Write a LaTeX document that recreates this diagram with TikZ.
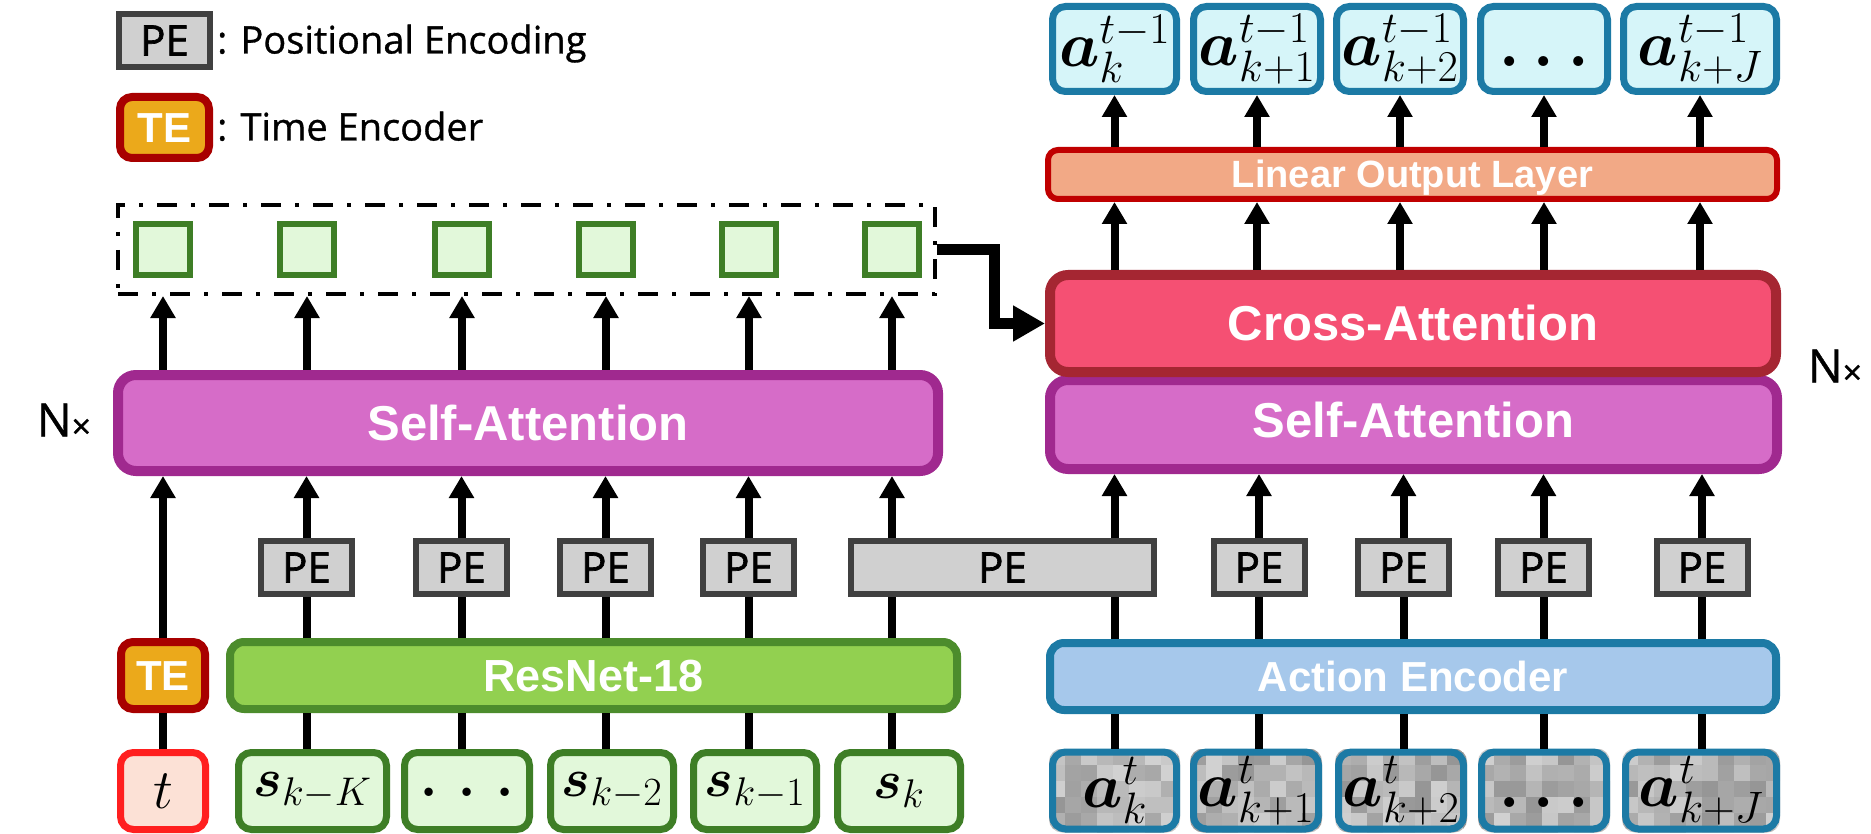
\RequirePackage{fix-cm}
\documentclass[tikz,border=0pt]{standalone}
\usepackage{fontspec}
\usepackage{bm}
\usetikzlibrary{arrows.meta,calc}
\newfontfamily\lsans{Liberation Sans}
\newfontfamily\osans{Open Sans}[FakeBold=0.8]
\newfontfamily\osansb{Open Sans}[FakeBold=1.6]
\DeclareMathSizes{64}{64}{44}{32}
\DeclareMathSizes{54}{54}{40}{28}
\DeclareMathSizes{56}{56}{40}{28}
\newcommand\mA{\fontsize{64}{64}\selectfont}
\newcommand\mS{\fontsize{54}{54}\selectfont}
\newcommand\mT{\fontsize{56}{56}\selectfont}
\newcommand\bdots[1]{\bm{.}\mkern#1mu\bm{.}\mkern#1mu\bm{.}}
\newcommand\ntimes{N\raisebox{-2pt}{\fontsize{34}{34}\selectfont ×}}
\definecolor{peF}{HTML}{D0D0D0}\definecolor{peD}{HTML}{404040}
\definecolor{teF}{HTML}{EBA91B}\definecolor{teD}{HTML}{A80000}
\definecolor{tF}{HTML}{FCE1D6}\definecolor{tD}{HTML}{FF1F1F}
\definecolor{gF}{HTML}{E2F8DA}\definecolor{gD}{HTML}{3E7E26}
\definecolor{resF}{HTML}{92D050}\definecolor{resD}{HTML}{4C8C2C}
\definecolor{saF}{HTML}{D66CC8}\definecolor{saD}{HTML}{A0298F}
\definecolor{caF}{HTML}{F55073}\definecolor{caD}{HTML}{A52632}
\definecolor{linF}{HTML}{F2A986}\definecolor{linD}{HTML}{C00000}
\definecolor{outF}{HTML}{D6F5F9}\definecolor{blD}{HTML}{1C7AA5}
\definecolor{aeF}{HTML}{A6C8EB}
\pgfdeclarelayer{bg}
\pgfsetlayers{bg,main}
\tikzset{
  pebox/.style={draw=peD, fill=peF, line width=6pt, inner sep=0pt, minimum width=91pt, minimum height=53pt,
    font=\osansb\fontsize{42}{42}\selectfont, text height=30pt, text depth=0pt},
  tebox/.style={draw=teD, fill=teF, line width=8pt, rounded corners=12pt, inner sep=0pt,
    font=\lsans\bfseries\fontsize{42}{42}\selectfont, text=white, text height=30pt, text depth=0pt},
  bigbox/.style={draw, line width=10pt, rounded corners=18pt, inner sep=0pt,
    font=\lsans\bfseries\fontsize{49}{49}\selectfont, text=white, text height=35pt, text depth=0pt},
  encbox/.style={draw, line width=8pt, rounded corners=14pt, inner sep=0pt, minimum height=67pt,
    text=white, text depth=0pt},
  linbox/.style={draw=linD, fill=linF, line width=6pt, rounded corners=10pt, inner sep=0pt,
    minimum width=729pt, minimum height=49pt, text=white,
    font=\lsans\bfseries\fontsize{38}{38}\selectfont, text height=27pt, text depth=0pt},
  inbox/.style={line width=7pt, rounded corners=13pt, inner sep=0pt, minimum height=77pt},
  outbox/.style={draw=blD, fill=outF, line width=7pt, rounded corners=13pt, inner sep=0pt, minimum height=85pt, font=\mA},
  sqbox/.style={draw=gD, fill=gF, line width=6pt, minimum width=54pt, minimum height=51pt, inner sep=0pt},
  legtxt/.style={font=\osans\fontsize{38}{38}\selectfont, inner sep=0pt, text height=27pt, text depth=0pt, anchor=west},
  nxtxt/.style={font=\osans\fontsize{46}{46}\selectfont, inner sep=0pt, text height=33pt, text depth=0pt},
  arr/.style={line width=8pt, -{Triangle[width=24pt,length=22pt]}},
  conn/.style={line width=8pt},
  elb/.style={line width=11pt, -{Triangle[width=34pt,length=32pt]}},
}
\begin{document}
\begin{tikzpicture}[x=1pt,y=-1pt]
\begin{pgfonlayer}{bg}
\fill[white] (0,0) rectangle (1871,834);
\end{pgfonlayer}
\useasboundingbox (0,0) rectangle (1871,834);
\pgfmathsetseed{42}
% legend
\node[pebox] (lpe) at (164.5,40.5) {PE};
\node[tebox, minimum width=89pt, minimum height=61pt] (lte) at (164.5,127.5) {TE};
\node[legtxt] (lpet) at (217,40) {: Positional Encoding};
\node[legtxt] (ltet) at (217,127) {: Time Encoder};
% dashed group with feature squares
\node[draw, line width=4pt, dash pattern=on 20pt off 14pt on 4pt off 14pt, minimum width=817pt, minimum height=89pt, inner sep=0pt] (grp) at (526.5,249.5) {};
\foreach \x [count=\i] in {163,307,462,606,749,892} \node[sqbox] (sq\i) at (\x,249.5) {};
% left encoder
\node[bigbox, draw=saD, fill=saF, minimum width=820pt, minimum height=96pt] (sal) at (528,423) {Self-Attention};
\node[nxtxt] (nxl) at (64,420) {\ntimes};
\foreach \x [count=\i] in {306.5,461.5,605.5,748.5} \node[pebox] (pe\i) at (\x,567.5) {PE};
\node[pebox, minimum width=303pt] (pe5) at (1002.5,567.5) {PE};
\foreach \x [count=\i from 6] in {1259,1403.5,1543.5,1702} \node[pebox] (pe\i) at (\x,567.5) {PE};
\node[tebox, minimum width=84pt, minimum height=67pt] (te) at (163,675.5) {TE};
\node[encbox, draw=resD, fill=resF, minimum width=727pt, font=\lsans\bfseries\fontsize{45}{45}\selectfont, text height=32pt] (res) at (593.5,675.5) {ResNet-18};
\node[encbox, draw=blD, fill=aeF, minimum width=726pt, font=\lsans\bfseries\fontsize{42}{42}\selectfont, text height=30pt] (ae) at (1413,676.5) {Action Encoder};
% inputs
\node[inbox, draw=tD, fill=tF, minimum width=85pt, font=\mT] (t) at (163,791) {$t$};
\node[inbox, draw=gD, fill=gF, minimum width=148pt, font=\mS] (s1) at (312.5,791) {$\bm{s}_{k-K}$};
\node[inbox, draw=gD, fill=gF, minimum width=125pt, font=\mS] (s2) at (467,791) {$\vphantom{\bm{s}_{k-1}}\bdots{7}$};
\node[inbox, draw=gD, fill=gF, minimum width=123pt, font=\mS] (s3) at (612,791) {$\bm{s}_{k-2}$};
\node[inbox, draw=gD, fill=gF, minimum width=123pt, font=\mS] (s4) at (755,791) {$\bm{s}_{k-1}$};
\node[inbox, draw=gD, fill=gF, minimum width=123pt, font=\mS] (s5) at (899,791) {$\bm{s}_{k}$};
\node[inbox, draw=blD, minimum width=124pt, font=\mA] (a1) at (1114.5,790.5) {$\bm{a}_{k}^{t}$};
\node[inbox, draw=blD, minimum width=125pt, font=\mA] (a2) at (1256,790.5) {$\bm{a}_{k+1}^{t}$};
\node[inbox, draw=blD, minimum width=125pt, font=\mA] (a3) at (1401,790.5) {$\bm{a}_{k+2}^{t}$};
\node[inbox, draw=blD, minimum width=125pt, font=\mA] (a4) at (1544,790.5) {$\vphantom{\bm{a}_{k}^{t}}\bdots{4}$};
\node[inbox, draw=blD, minimum width=151pt, font=\mA] (a5) at (1701,790.5) {$\bm{a}_{k+J}^{t}$};
\begin{pgfonlayer}{bg}
\foreach \i in {1,...,5}{
  \begin{scope}
    \clip[rounded corners=13pt] (a\i.south west) rectangle (a\i.north east);
    \foreach \u in {0,...,10}{\foreach \v in {0,...,5}{
      \pgfmathsetmacro\g{int(18+24*rnd)}
      \fill[black!\g] ($(a\i.north west)+(\u*16,\v*16)$) rectangle ++(16,16);
    }}
  \end{scope}
}
\end{pgfonlayer}
% decoder
\node[bigbox, draw=saD, fill=saF, minimum width=727pt, minimum height=89pt, text depth=10pt] (sar) at (1413.5,424.5) {Self-Attention};
\node[bigbox, draw=caD, fill=caF, minimum width=726pt, minimum height=97pt] (ca) at (1413,323.5) {Cross-Attention};
\node[nxtxt] (nxr) at (1835,366) {\ntimes};
\node[linbox] (lin) at (1412.5,174.5) {Linear Output Layer};
\node[outbox, minimum width=124pt] (o1) at (1114.5,49) {$\bm{a}_{k}^{t-1}$};
\node[outbox, minimum width=127pt] (o2) at (1257,49) {$\bm{a}_{k+1}^{t-1}$};
\node[outbox, minimum width=127pt] (o3) at (1400,49) {$\bm{a}_{k+2}^{t-1}$};
\node[outbox, minimum width=127pt] (o4) at (1544,49) {$\vphantom{\bm{a}_{k}^{t-1}}\bdots{4}$};
\node[outbox, minimum width=153pt] (o5) at (1700,49) {$\bm{a}_{k+J}^{t-1}$};
% connectors, left
\draw[conn] (t.north) -- (te.south);
\draw[arr] (te.north) -- (te |- sal.south);
\foreach \i in {1,...,4}{
  \draw[conn] (s\i.north -| pe\i) -- (pe\i |- res.south);
  \draw[conn] (pe\i |- res.north) -- (pe\i.south);
  \draw[arr] (pe\i.north) -- (pe\i |- sal.south);
}
\draw[conn] (s5.north -| sq6) -- (sq6 |- res.south);
\draw[conn] (sq6 |- res.north) -- (sq6 |- pe5.south);
\draw[arr] (sq6 |- pe5.north) -- (sq6 |- sal.south);
\foreach \i in {1,...,6} \draw[arr] (sq\i |- sal.north) -- (sq\i |- grp.south);
% connectors, right
\draw[conn] (a1.north) -- (a1 |- ae.south);
\draw[conn] (a1 |- ae.north) -- (a1 |- pe5.south);
\draw[arr] (a1 |- pe5.north) -- (a1 |- sar.south);
\foreach \i/\j in {2/6,3/7,4/8,5/9}{
  \draw[conn] (a\i.north -| pe\j) -- (pe\j |- ae.south);
  \draw[conn] (pe\j |- ae.north) -- (pe\j.south);
  \draw[arr] (pe\j.north) -- (pe\j |- sar.south);
}
\foreach \i in {1,...,5}{
  \draw[arr] (o\i |- ca.north) -- (o\i |- lin.south);
  \draw[arr] (o\i |- lin.north) -- (o\i.south);
}
\draw[elb] (grp.east) -- ++(57,0) |- (ca.west);
\end{tikzpicture}
\end{document}
